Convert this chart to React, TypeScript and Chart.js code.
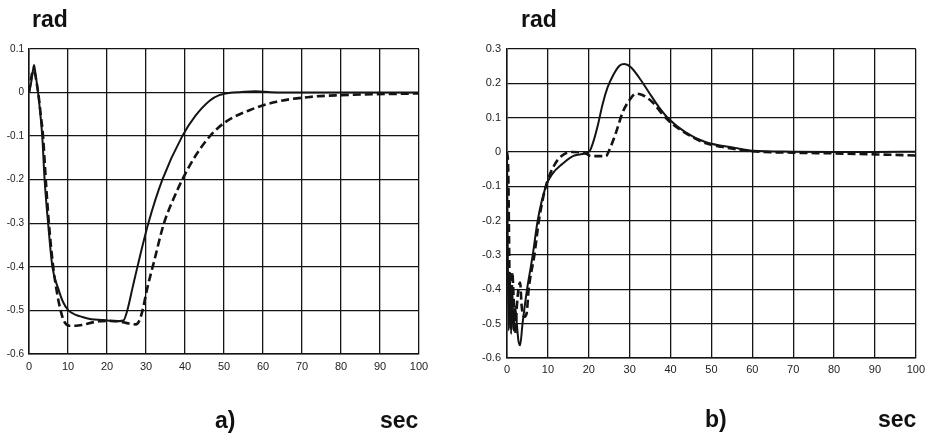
import React, { useEffect, useRef } from "react";
import { Chart, registerables } from "chart.js";

Chart.register(...registerables);

// ---------- Data: panel a) ----------
const aSolidX = [0, 0.5, 1, 1.3, 1.7, 2.2, 2.8, 3.4, 4.0, 4.9, 6.0, 7.5, 8.7, 10.1, 12, 13.7, 16, 19, 22, 24.2, 25.2, 26.5, 27.8, 30.6, 34.2, 39.3, 42.7, 46.4, 48.8, 52, 54, 58, 62, 70, 80, 90, 100];
const aSolidY = [0, 0.02, 0.05, 0.063, 0.04, 0.01, -0.04, -0.1, -0.2, -0.3, -0.4, -0.45, -0.48, -0.5, -0.51, -0.515, -0.52, -0.522, -0.525, -0.523, -0.5, -0.45, -0.4, -0.3, -0.2, -0.1, -0.053, -0.018, -0.006, 0, 0.001, 0.003, 0.001, 0, 0, 0, 0];

const aDashedX = [0, 0.5, 1.0, 1.5, 2.0, 2.5, 3.0, 3.6, 4.3, 5.1, 6.2, 7.0, 8.1, 9.0, 10.3, 12, 13.7, 16, 18, 20, 23, 25.6, 27.4, 28.2, 29, 30.3, 32, 34.6, 37, 39.3, 42.7, 46.4, 50.3, 56.7, 63.5, 72, 79.7, 88, 100];
const aDashedY = [0, 0.03, 0.05, 0.045, 0.02, -0.01, -0.05, -0.1, -0.2, -0.3, -0.4, -0.45, -0.5, -0.525, -0.535, -0.535, -0.533, -0.528, -0.525, -0.524, -0.525, -0.53, -0.532, -0.525, -0.504, -0.45, -0.39, -0.3, -0.245, -0.2, -0.145, -0.1, -0.068, -0.04, -0.021, -0.01, -0.006, -0.004, -0.002];

// ---------- Data: panel b) ----------
const bSolidX = [0, 0.2, 0.4, 0.7, 1.0, 1.3, 1.6, 2.0, 2.4, 2.8, 3.2, 3.8, 4.9, 5.6, 6.3, 7.5, 9.5, 11, 13.5, 16.5, 20.2, 21.2, 22.2, 23.4, 24.6, 25.9, 27.5, 28.7, 30.3, 32.3, 34.7, 37.2, 39.6, 43.6, 48.5, 55.8, 60, 70, 80, 90, 100];
const bSolidY = [0, -0.3, -0.52, -0.35, -0.53, -0.4, -0.52, -0.45, -0.5, -0.55, -0.563, -0.5, -0.4, -0.35, -0.3, -0.2, -0.1, -0.065, -0.035, -0.01, 0.003, 0.033, 0.077, 0.14, 0.188, 0.222, 0.251, 0.256, 0.247, 0.217, 0.174, 0.13, 0.096, 0.058, 0.029, 0.012, 0.004, 0.001, 0, 0, 0.001];

const bDashedX = [0, 0.3, 0.5, 0.7, 1.0, 1.3, 1.6, 2.0, 2.4, 2.8, 3.2, 3.6, 4.2, 4.8, 5.3, 6.7, 7.8, 9.5, 11.5, 13.5, 16, 19.4, 20.5, 24.2, 25, 26.7, 28.3, 29.9, 31.5, 33.1, 35.6, 38, 40.4, 44.4, 48.5, 52.5, 56, 60, 70, 80, 90, 100];
const bDashedY = [0, -0.05, -0.25, -0.45, -0.52, -0.35, -0.42, -0.53, -0.45, -0.4, -0.38, -0.45, -0.48, -0.47, -0.4, -0.3, -0.2, -0.1, -0.04, -0.01, 0, -0.005, -0.012, -0.012, 0.005, 0.058, 0.116, 0.15, 0.17, 0.166, 0.145, 0.11, 0.082, 0.05, 0.026, 0.015, 0.008, 0.002, -0.002, -0.004, -0.007, -0.01];

// ---------- Axis settings ----------
const xTickMin = 0;
const xTickMax = 100;
const xTickStep = 10;
const aYMin = -0.6;
const aYMax = 0.1;
const bYMin = -0.6;
const bYMax = 0.3;
const yTickStep = 0.1;

const toPoints = (xs: number[], ys: number[]) => xs.map((x, i) => ({ x, y: ys[i] }));

const INK = "#141414";
const FONT = "'Liberation Sans', Arial, sans-serif";

type PanelProps = {
  left: number;
  width: number;
  height: number;
  solid: { x: number; y: number }[];
  dashed: { x: number; y: number }[];
  yMin: number;
  yMax: number;
  yAxisWidth: number;
  xAxisHeight: number;
  padTop: number;
  padRight: number;
  yFont: number;
  yPad: number;
  xPad: number;
};

function Panel(p: PanelProps) {
  const ref = useRef<HTMLCanvasElement | null>(null);
  useEffect(() => {
    if (!ref.current) return;
    const chart = new Chart(ref.current, {
      type: "line",
      data: {
        datasets: [
          {
            data: p.solid,
            borderColor: INK,
            borderWidth: 2,
            pointRadius: 0,
            cubicInterpolationMode: "monotone",
            fill: false,
          },
          {
            data: p.dashed,
            borderColor: INK,
            borderWidth: 2.6,
            borderDash: [8, 4],
            pointRadius: 0,
            cubicInterpolationMode: "monotone",
            fill: false,
          },
        ],
      },
      options: {
        animation: false,
        responsive: false,
        maintainAspectRatio: false,
        layout: { padding: { top: p.padTop, right: p.padRight, left: 0, bottom: 0 } },
        plugins: { legend: { display: false }, tooltip: { enabled: false }, title: { display: false } },
        scales: {
          x: {
            type: "linear",
            min: xTickMin,
            max: xTickMax,
            afterFit: (s: any) => {
              s.height = p.xAxisHeight;
            },
            ticks: {
              stepSize: xTickStep,
              autoSkip: false,
              maxRotation: 0,
              color: "#222",
              padding: p.xPad,
              font: { family: FONT, size: 11 },
            },
            grid: { color: INK, lineWidth: 1.3, drawTicks: false },
            border: { color: INK, width: 1.5 },
          },
          y: {
            type: "linear",
            min: p.yMin,
            max: p.yMax,
            afterFit: (s: any) => {
              s.width = p.yAxisWidth;
            },
            ticks: {
              stepSize: yTickStep,
              autoSkip: false,
              color: "#222",
              padding: p.yPad,
              font: { family: FONT, size: p.yFont },
              callback: (v: any) => {
                const r = Math.round(Number(v) * 10) / 10;
                return r === 0 ? "0" : String(r);
              },
            },
            grid: { color: INK, lineWidth: 1.3, drawTicks: false },
            border: { color: INK, width: 1.5 },
          },
        },
      },
    } as any);
    return () => chart.destroy();
  }, []);
  return (
    <canvas
      ref={ref}
      width={p.width}
      height={p.height}
      style={{ position: "absolute", left: p.left, top: 0, width: p.width, height: p.height }}
    />
  );
}

const labelStyle = (left: number, top: number): React.CSSProperties => ({
  position: "absolute",
  left,
  top,
  fontFamily: FONT,
  fontWeight: 700,
  fontSize: 23,
  lineHeight: 1,
  color: "#111",
  whiteSpace: "nowrap",
});

export default function App() {
  return (
    <div
      style={{
        position: "fixed",
        left: 0,
        top: 0,
        width: 930,
        height: 433,
        background: "#fff",
        overflow: "hidden",
      }}
    >
      <Panel
        left={0}
        width={465}
        height={433}
        solid={toPoints(aSolidX, aSolidY)}
        dashed={toPoints(aDashedX, aDashedY)}
        yMin={aYMin}
        yMax={aYMax}
        yAxisWidth={29}
        xAxisHeight={433 - 354}
        padTop={49}
        padRight={465 - 419}
        yFont={10}
        yPad={5}
        xPad={6}
      />
      <Panel
        left={465}
        width={465}
        height={433}
        solid={toPoints(bSolidX, bSolidY)}
        dashed={toPoints(bDashedX, bDashedY)}
        yMin={bYMin}
        yMax={bYMax}
        yAxisWidth={42}
        xAxisHeight={433 - 358}
        padTop={49}
        padRight={465 - 455}
        yFont={11}
        yPad={6}
        xPad={5}
      />
      <div style={labelStyle(32, 7.5)}>rad</div>
      <div style={labelStyle(521, 7.5)}>rad</div>
      <div style={labelStyle(215, 408.5)}>a)</div>
      <div style={labelStyle(380, 408.5)}>sec</div>
      <div style={labelStyle(705, 408)}>b)</div>
      <div style={labelStyle(878, 408)}>sec</div>
    </div>
  );
}
